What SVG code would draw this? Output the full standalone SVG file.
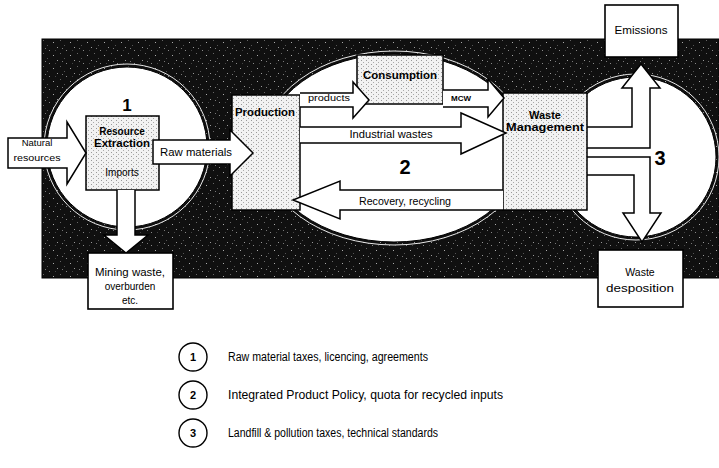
<svg xmlns="http://www.w3.org/2000/svg" width="719" height="468" viewBox="0 0 719 468">
<style>
text{font-family:"Liberation Sans",Arial,sans-serif;fill:#000}
.b{font-weight:bold}
.arrow{fill:#fff;stroke:#000;stroke-width:1.5;stroke-linejoin:miter}
.box{fill:url(#stip);stroke:#000;stroke-width:1.5}
.wbox{fill:#fff;stroke:#000;stroke-width:1.6}
.zone{fill:#fff;stroke:#000;stroke-width:1}
.halo{fill:none;stroke:#e8e8e8;stroke-width:1}
.leg{fill:none;stroke:#000;stroke-width:1.4}
</style>
<defs>
<pattern id="noise" width="17" height="13" patternUnits="userSpaceOnUse">
<rect width="17" height="13" fill="#101010"/>
<rect x="2" y="3" width="1" height="1" fill="#aaa"/>
<rect x="9" y="1" width="1" height="1" fill="#666"/>
<rect x="6" y="8" width="1" height="1" fill="#999"/>
<rect x="13" y="6" width="1" height="1" fill="#555"/>
<rect x="15" y="11" width="1" height="1" fill="#888"/>
<rect x="4" y="11" width="1" height="1" fill="#444"/>
<rect x="11" y="9" width="1" height="1" fill="#777"/>
</pattern>
<pattern id="stip" width="5" height="4" patternUnits="userSpaceOnUse">
<rect width="5" height="4" fill="#f2f2f2"/>
<rect x="1" y="0" width="1" height="1" fill="#999"/>
<rect x="3" y="2" width="1" height="1" fill="#aaa"/>
</pattern>
</defs>

<g id="background">
<rect x="42" y="39" width="677" height="239" fill="url(#noise)" stroke="#000" stroke-width="1"/>
</g>

<g id="zones">
<circle class="halo" cx="127" cy="147" r="83"/>
<circle class="zone" cx="127" cy="147" r="80"/>
<ellipse class="halo" cx="394" cy="148" rx="133" ry="97"/>
<ellipse class="zone" cx="394" cy="148" rx="130" ry="94"/>
<circle class="halo" cx="636" cy="157" r="83"/>
<circle class="zone" cx="636" cy="157" r="80"/>
<text class="b" x="127" y="111" font-size="17" text-anchor="middle">1</text>
<text class="b" x="405" y="174" font-size="20" text-anchor="middle">2</text>
<text class="b" x="660" y="165" font-size="20" text-anchor="middle">3</text>
</g>

<g id="connectors-back">
<path class="arrow" d="M580,127 H632 V88 H622 L641,64 L660,88 H650 V148 H580 Z"/>
<path class="arrow" d="M580,157 H650 V213 H661 L642,242 L623,213 H634 V175 H580 Z"/>
</g>

<g id="node-resource">
<rect class="box" x="86" y="116" width="73" height="74"/>
<text class="b" x="122" y="135" font-size="10" text-anchor="middle">Resource</text>
<text class="b" x="122" y="147" font-size="10" text-anchor="middle" textLength="56" lengthAdjust="spacingAndGlyphs">Extraction</text>
<text x="122" y="176" font-size="10" text-anchor="middle">Imports</text>
</g>
<g id="node-production">
<rect class="box" x="232" y="95" width="68" height="115"/>
<text class="b" x="265" y="116" font-size="10.5" text-anchor="middle" textLength="60" lengthAdjust="spacingAndGlyphs">Production</text>
</g>
<g id="node-consumption">
<rect class="box" x="357" y="55" width="86" height="49"/>
<text class="b" x="400" y="79" font-size="11" text-anchor="middle" textLength="74" lengthAdjust="spacingAndGlyphs">Consumption</text>
</g>
<g id="node-waste-management">
<rect class="box" x="503" y="93" width="84" height="117"/>
<text class="b" x="545" y="119" font-size="11" text-anchor="middle">Waste</text>
<text class="b" x="545" y="131" font-size="11" text-anchor="middle" textLength="78" lengthAdjust="spacingAndGlyphs">Management</text>
</g>

<g id="connectors">
<path class="arrow" d="M8,138 H67 V122 L86,153 L67,184 V168 H8 Z"/>
<text x="37" y="146" font-size="9.5" text-anchor="middle">Natural</text>
<text x="37" y="161" font-size="9.5" text-anchor="middle" textLength="47" lengthAdjust="spacingAndGlyphs">resources</text>
<path class="arrow" d="M153,140 H230 V130 L253,153 L230,176 V164 H153 Z"/>
<text x="196" y="156" font-size="10.5" text-anchor="middle" textLength="72" lengthAdjust="spacingAndGlyphs">Raw materials</text>
<path class="arrow" d="M117,190 V235 H104 L126,253 L148,235 H135 V190"/>
<path class="arrow" d="M300,93 H353 V82 L369,100 L353,118 V107 H300"/>
<text x="329" y="101" font-size="9.5" text-anchor="middle" textLength="42" lengthAdjust="spacingAndGlyphs">products</text>
<path class="arrow" d="M443,90 H488 V79 L504,98 L488,117 V107 H443"/>
<text class="b" x="461" y="101" font-size="8" text-anchor="middle">MCW</text>
<path class="arrow" d="M300,127 H461 V113 L506,133 L461,154 V143 H300"/>
<text x="391" y="138" font-size="10" text-anchor="middle" textLength="83" lengthAdjust="spacingAndGlyphs">Industrial wastes</text>
<path class="arrow" d="M503,190 H340 V181 L293,200 L340,219 V210 H503"/>
<text x="405" y="205" font-size="10" text-anchor="middle" textLength="92" lengthAdjust="spacingAndGlyphs">Recovery, recycling</text>
</g>

<g id="node-mining">
<rect class="wbox" x="88" y="253" width="85" height="56"/>
<text x="130" y="276" font-size="10" text-anchor="middle" textLength="70" lengthAdjust="spacingAndGlyphs">Mining waste,</text>
<text x="130" y="290" font-size="10" text-anchor="middle">overburden</text>
<text x="130" y="304" font-size="10" text-anchor="middle">etc.</text>
</g>
<g id="node-emissions">
<rect class="wbox" x="605" y="5" width="73" height="52"/>
<text x="641" y="34" font-size="10" text-anchor="middle" textLength="53" lengthAdjust="spacingAndGlyphs">Emissions</text>
</g>
<g id="node-waste-desposition">
<rect class="wbox" x="598" y="250" width="85" height="57"/>
<text x="640" y="276" font-size="10.5" text-anchor="middle">Waste</text>
<text x="640" y="292" font-size="10.5" text-anchor="middle" textLength="68" lengthAdjust="spacingAndGlyphs">desposition</text>
</g>

<g id="legend">
<circle class="leg" cx="193" cy="357" r="14"/>
<text class="b" x="193" y="361" font-size="11" text-anchor="middle">1</text>
<text x="228" y="361" font-size="12" textLength="200" lengthAdjust="spacingAndGlyphs">Raw material taxes, licencing, agreements</text>
<circle class="leg" cx="193" cy="395" r="14"/>
<text class="b" x="193" y="399" font-size="11" text-anchor="middle">2</text>
<text x="228" y="399" font-size="12" textLength="275" lengthAdjust="spacingAndGlyphs">Integrated Product Policy, quota for recycled inputs</text>
<circle class="leg" cx="193" cy="433" r="14"/>
<text class="b" x="193" y="437" font-size="11" text-anchor="middle">3</text>
<text x="228" y="437" font-size="12" textLength="210" lengthAdjust="spacingAndGlyphs">Landfill &amp; pollution taxes, technical standards</text>
</g>
</svg>
